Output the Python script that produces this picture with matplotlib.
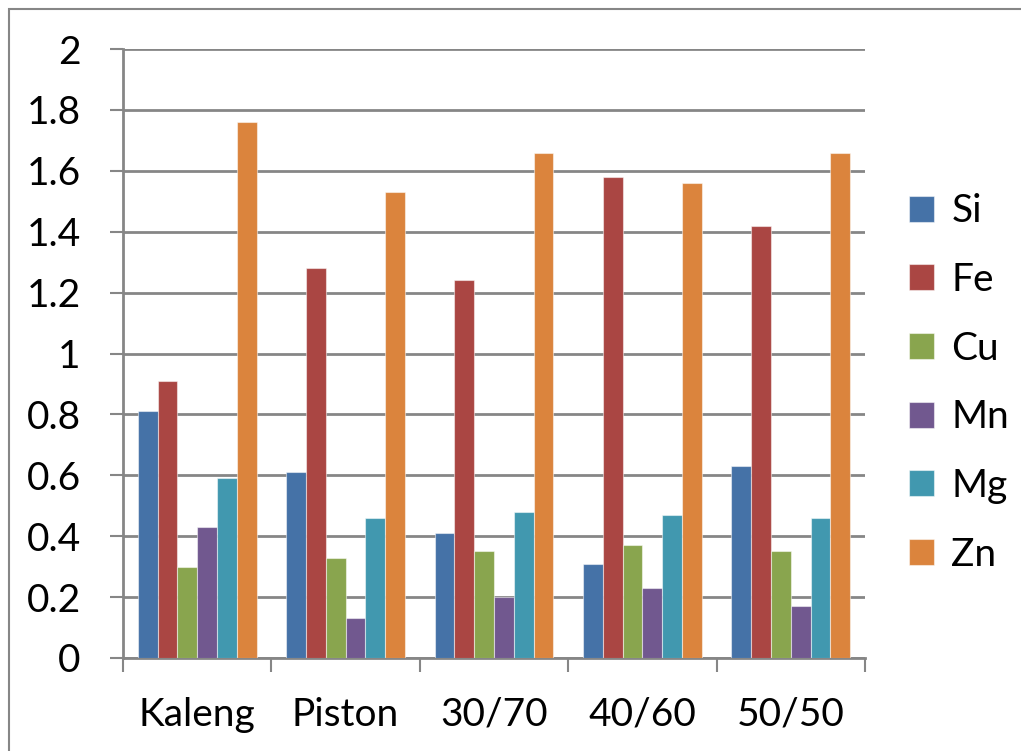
import matplotlib.pyplot as plt
import numpy as np
from matplotlib.patches import Rectangle

# element content per sample
categories = ["Kaleng", "Piston", "30/70", "40/60", "50/50"]
elements = ["Si", "Fe", "Cu", "Mn", "Mg", "Zn"]
si = [0.81, 0.61, 0.41, 0.31, 0.63]
fe = [0.91, 1.28, 1.24, 1.58, 1.42]
cu = [0.30, 0.33, 0.35, 0.37, 0.35]
mn = [0.43, 0.13, 0.20, 0.23, 0.17]
mg = [0.59, 0.46, 0.48, 0.47, 0.46]
zn = [1.76, 1.53, 1.66, 1.56, 1.66]
series = [si, fe, cu, mn, mg, zn]
colors = ["#4572A7", "#AA4643", "#89A54E", "#71588F", "#4198AF", "#DB843D"]

plt.rcParams['font.family'] = ['Lato', 'DejaVu Sans']
grid_col = "#868686"

fig = plt.figure(figsize=(10.21, 7.51), dpi=100)
fig.patches.append(Rectangle((9 / 1021, -0.1), 1.2, 1 - 9 / 751 + 0.1,
                             transform=fig.transFigure, fill=False,
                             edgecolor=grid_col, linewidth=1.5))
ax = fig.add_axes([123 / 1021, 1 - 658 / 751, 742 / 1021, 609 / 751])

x = np.arange(len(categories))
w = 1 / 7.5
for i, (vals, name) in enumerate(zip(series, elements)):
    ax.bar(x + (i - 2.5) * w, vals, w, color=colors[i], label=name,
           edgecolor=(1, 1, 1, 0.5), linewidth=0.8, zorder=3)

ax.set_xlim(-0.5, len(categories) - 0.5)
ax.set_ylim(0, 2)
ax.set_yticks(np.arange(0, 2.01, 0.2))
ax.set_yticklabels(["0", "0.2", "0.4", "0.6", "0.8", "1", "1.2", "1.4", "1.6", "1.8", "2"])
ax.yaxis.grid(True, color=grid_col, linewidth=2, zorder=0)

ax.set_xticks(x)
ax.set_xticklabels(categories)
ax.set_xticks(np.arange(-0.5, len(categories)), minor=True)
ax.tick_params(axis='x', which='major', length=0, pad=28, labelsize=28)
ax.tick_params(axis='x', which='minor', length=10, width=1.5, color=grid_col)
ax.tick_params(axis='y', length=9.5, width=1.5, color=grid_col, pad=21, labelsize=28)

for s in ['top', 'right']:
    ax.spines[s].set_visible(False)
for s in ['left', 'bottom']:
    ax.spines[s].set_color(grid_col)
    ax.spines[s].set_linewidth(2)

ax.legend(loc='center left', bbox_to_anchor=(893 / 1021, 1 - 383 / 751),
          bbox_transform=fig.transFigure, frameon=False, fontsize=28,
          handlelength=0.65, handleheight=0.65, handletextpad=0.45,
          labelspacing=0.84, borderaxespad=0)

fig.savefig("out.png", dpi=100)
